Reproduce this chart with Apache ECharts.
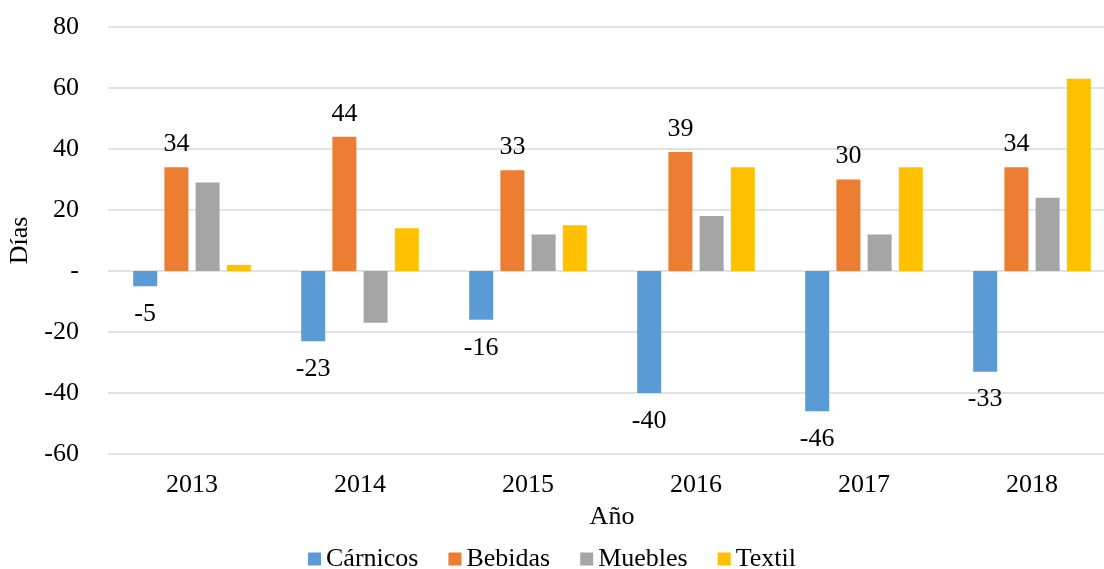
<!DOCTYPE html>
<html>
<head>
<meta charset="utf-8">
<script src="https://cdn.jsdelivr.net/npm/echarts@6/dist/echarts.min.js"></script>
<style>
html,body{margin:0;padding:0;background:#fff;overflow:hidden;}
#c{width:1104px;height:569px;}
</style>
</head>
<body>
<div id="c"></div>
<script>
const years = ['2013','2014','2015','2016','2017','2018'];
const carnicos = [-5, -23, -16, -40, -46, -33];
const bebidas = [34, 44, 33, 39, 30, 34];
const muebles = [29, -17, 12, 18, 12, 24];
const textil = [2, 14, 15, 34, 34, 63];
const seriesNames = ['Cárnicos', 'Bebidas', 'Muebles', 'Textil'];
const colors = ['#5B9BD5', '#ED7D31', '#A5A5A5', '#FFC000'];

const font = 'Liberation Serif';
const fs = 26;
const chart = echarts.init(document.getElementById('c'));
chart.setOption({
  animation: false,
  textStyle: { fontFamily: font },
  color: colors,
  grid: { left: 108, right: -12, top: 27, bottom: 115, outerBoundsMode: 'none', containLabel: false },
  legend: {
    data: seriesNames,
    bottom: -8,
    left: 'center',
    itemWidth: 13, itemHeight: 13, itemGap: 30,
    icon: 'rect',
    textStyle: { fontFamily: font, fontSize: fs, color: '#000' }
  },
  xAxis: {
    type: 'category',
    data: years,
    name: 'Año',
    nameLocation: 'middle',
    nameGap: 50,
    nameTextStyle: { fontFamily: font, fontSize: fs, color: '#000' },
    position: 'bottom',
    axisLine: { show: false, onZero: false },
    axisTick: { show: false },
    axisLabel: { fontFamily: font, fontSize: fs, color: '#000', margin: 18 }
  },
  yAxis: {
    type: 'value',
    min: -60, max: 80, interval: 20,
    name: 'Días',
    nameLocation: 'middle',
    nameGap: 69,
    nameRotate: 90,
    nameTextStyle: { fontFamily: font, fontSize: fs, color: '#000' },
    axisLine: { show: false },
    axisTick: { show: false },
    axisLabel: {
      fontFamily: font, fontSize: fs, color: '#000', margin: 29,
      formatter: v => v === 0 ? '-' : String(v)
    },
    splitLine: { lineStyle: { color: '#d9d9d9', width: 1.5 } }
  },
  series: [
    { name: seriesNames[0], type: 'bar', data: carnicos, barWidth: 24, barGap: '30%',
      label: { show: true, position: 'bottom', distance: 15, fontFamily: font, fontSize: fs, color: '#000' } },
    { name: seriesNames[1], type: 'bar', data: bebidas, barWidth: 24, barGap: '30%',
      label: { show: true, position: 'top', distance: 10, fontFamily: font, fontSize: fs, color: '#000' } },
    { name: seriesNames[2], type: 'bar', data: muebles, barWidth: 24, barGap: '30%' },
    { name: seriesNames[3], type: 'bar', data: textil, barWidth: 24, barGap: '30%' }
  ]
});
</script>
</body>
</html>
